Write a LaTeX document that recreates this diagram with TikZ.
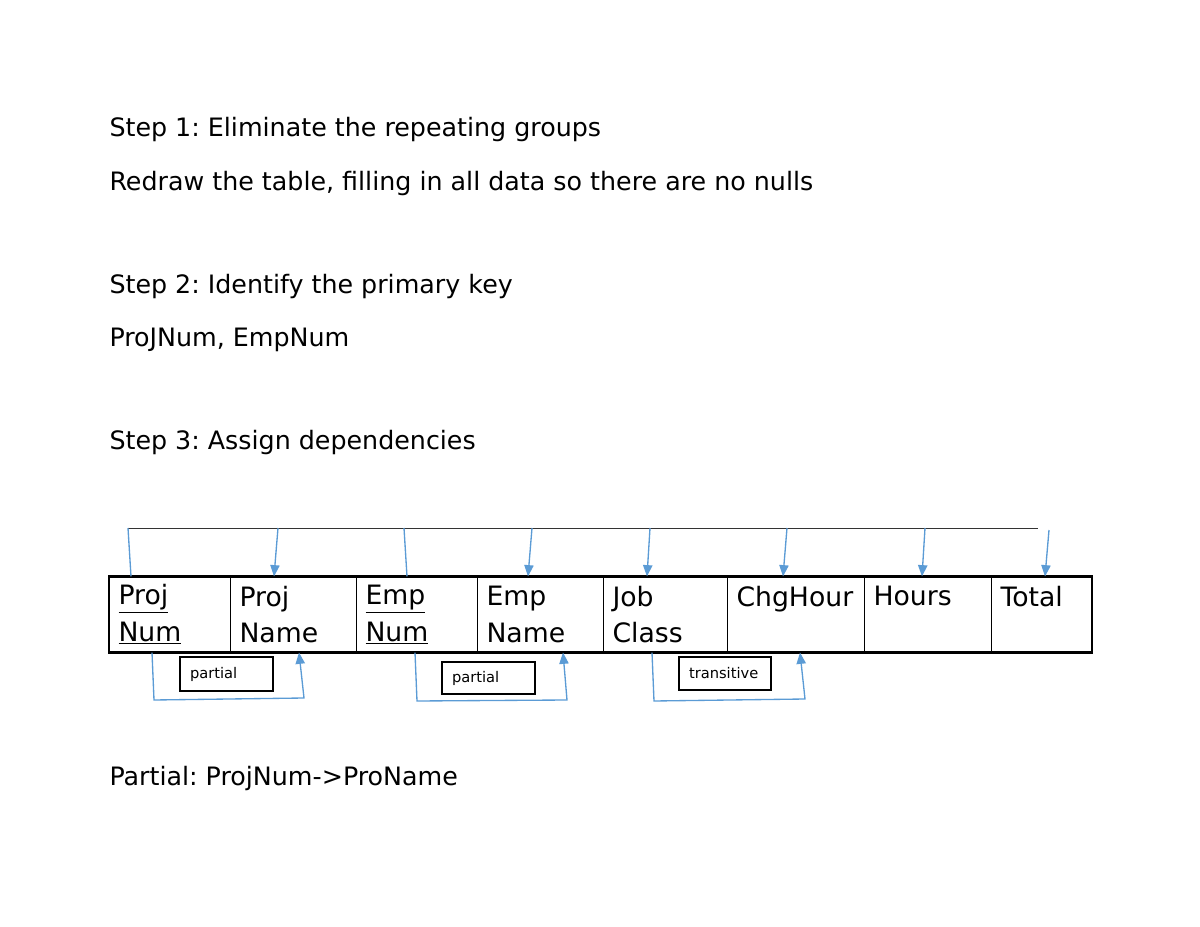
\documentclass[tikz,border=0pt]{standalone}
\usepackage{fontspec}
\setmainfont{DejaVu Sans}
\usetikzlibrary{arrows.meta}
\frenchspacing

\tikzset{every picture/.style={line width=0.75pt}}
\tikzset{
  cell/.style={draw, line width=0.8pt, anchor=west, align=left, minimum height=56.25pt, inner xsep=6.75pt, inner ysep=0pt, font=\fontsize{20}{27.5}\selectfont},
  depbox/.style={draw, line width=1.5pt, anchor=west, align=left, inner xsep=7.5pt, inner ysep=0pt, font=\fontsize{11}{13}\selectfont},
  dep/.style={color={rgb, 255:red, 91; green, 155; blue, 213 }, line width=1pt},
  deparrow/.style={dep, -{Triangle[length=8.5pt,width=7pt]}},
  steptext/.style={anchor=base west, inner sep=0pt, font=\fontsize{19}{23}\selectfont},
}

\begin{document}
\begin{tikzpicture}[x=0.75pt,y=0.75pt,yscale=-1,xscale=1]
%set diagram left start at 0, and has height of 927
\path (0,0) rectangle (1200,927);

% Text Node
\node[steptext] (step1) at (109,137) {Step 1: Eliminate the repeating groups};
% Text Node
\node[steptext] (redraw) at (109,191) {Redraw the table, filling in all data so there are no nulls};
% Text Node
\node[steptext] (step2) at (109,294) {Step 2: Identify the primary key};
% Text Node
\node[steptext] (pkey) at (109,347) {ProJNum, EmpNum};
% Text Node
\node[steptext] (step3) at (109,449) {Step 3: Assign dependencies};
% Text Node
\node[steptext] (partial) at (109,785) {Partial: ProjNum->ProName};

%Table cells
\node[cell, text width=77.25pt] (pnum) at (109,614.5) {\underline{Proj}\\\underline{Num}};
\node[cell, text width=81pt] (pname) at (230,614.5) {Proj\\Name};
\node[cell, text width=77.25pt] (enum) at (356,614.5) {\underline{Emp}\\\underline{Num}};
\node[cell, text width=81pt] (ename) at (477,614.5) {Emp\\Name};
\node[cell, text width=79.5pt] (jclass) at (603,614.5) {Job\\Class};
\node[cell, text width=89.25pt] (chg) at (727,614.5) {ChgHour\\\mbox{}};
\node[cell, text width=81.75pt] (hours) at (864,614.5) {Hours\\\mbox{}};
\node[cell, text width=61.5pt] (total) at (991,614.5) {Total\\\mbox{}};
%Table border
\draw[line width=1.5pt] (pnum.north west) rectangle (total.south east);

%Straight Lines (top bar)
\coordinate (barw) at (128,528);
\coordinate (bare) at (1038,528);
\draw[color=black!80] (barw) -- (bare);
\draw[dep] (barw) -- (pnum.north -| 131,0);
\draw[deparrow] (bare -| 278,0) -- (pname.north -| 274,0);
\draw[dep] (bare -| 404,0) -- (enum.north -| 407,0);
\draw[deparrow] (bare -| 532,0) -- (ename.north -| 528,0);
\draw[deparrow] (bare -| 650,0) -- (jclass.north -| 647,0);
\draw[deparrow] (bare -| 787,0) -- (chg.north -| 783,0);
\draw[deparrow] (bare -| 925,0) -- (hours.north -| 922,0);
\draw[deparrow] (1049,530) -- (total.north -| 1045,0);

%Dependency lines (bottom)
\draw[deparrow] (pnum.south -| 152,0) -- (154,700) -- (304,698) -- (pname.south -| 299,0);
\draw[deparrow] (enum.south -| 415,0) -- (417,701) -- (567,700) -- (ename.south -| 563,0);
\draw[deparrow] (jclass.south -| 652,0) -- (654,701) -- (805,699) -- (chg.south -| 800,0);

% Label boxes
\node[depbox, text width=55pt, minimum height=25.5pt] (part1) at (179,674) {partial};
\node[depbox, text width=55pt, minimum height=24pt] (part2) at (441,678) {partial};
\node[depbox, text width=54pt, minimum height=24.75pt] (trans) at (678,673.5) {transitive};

\end{tikzpicture}
\end{document}
